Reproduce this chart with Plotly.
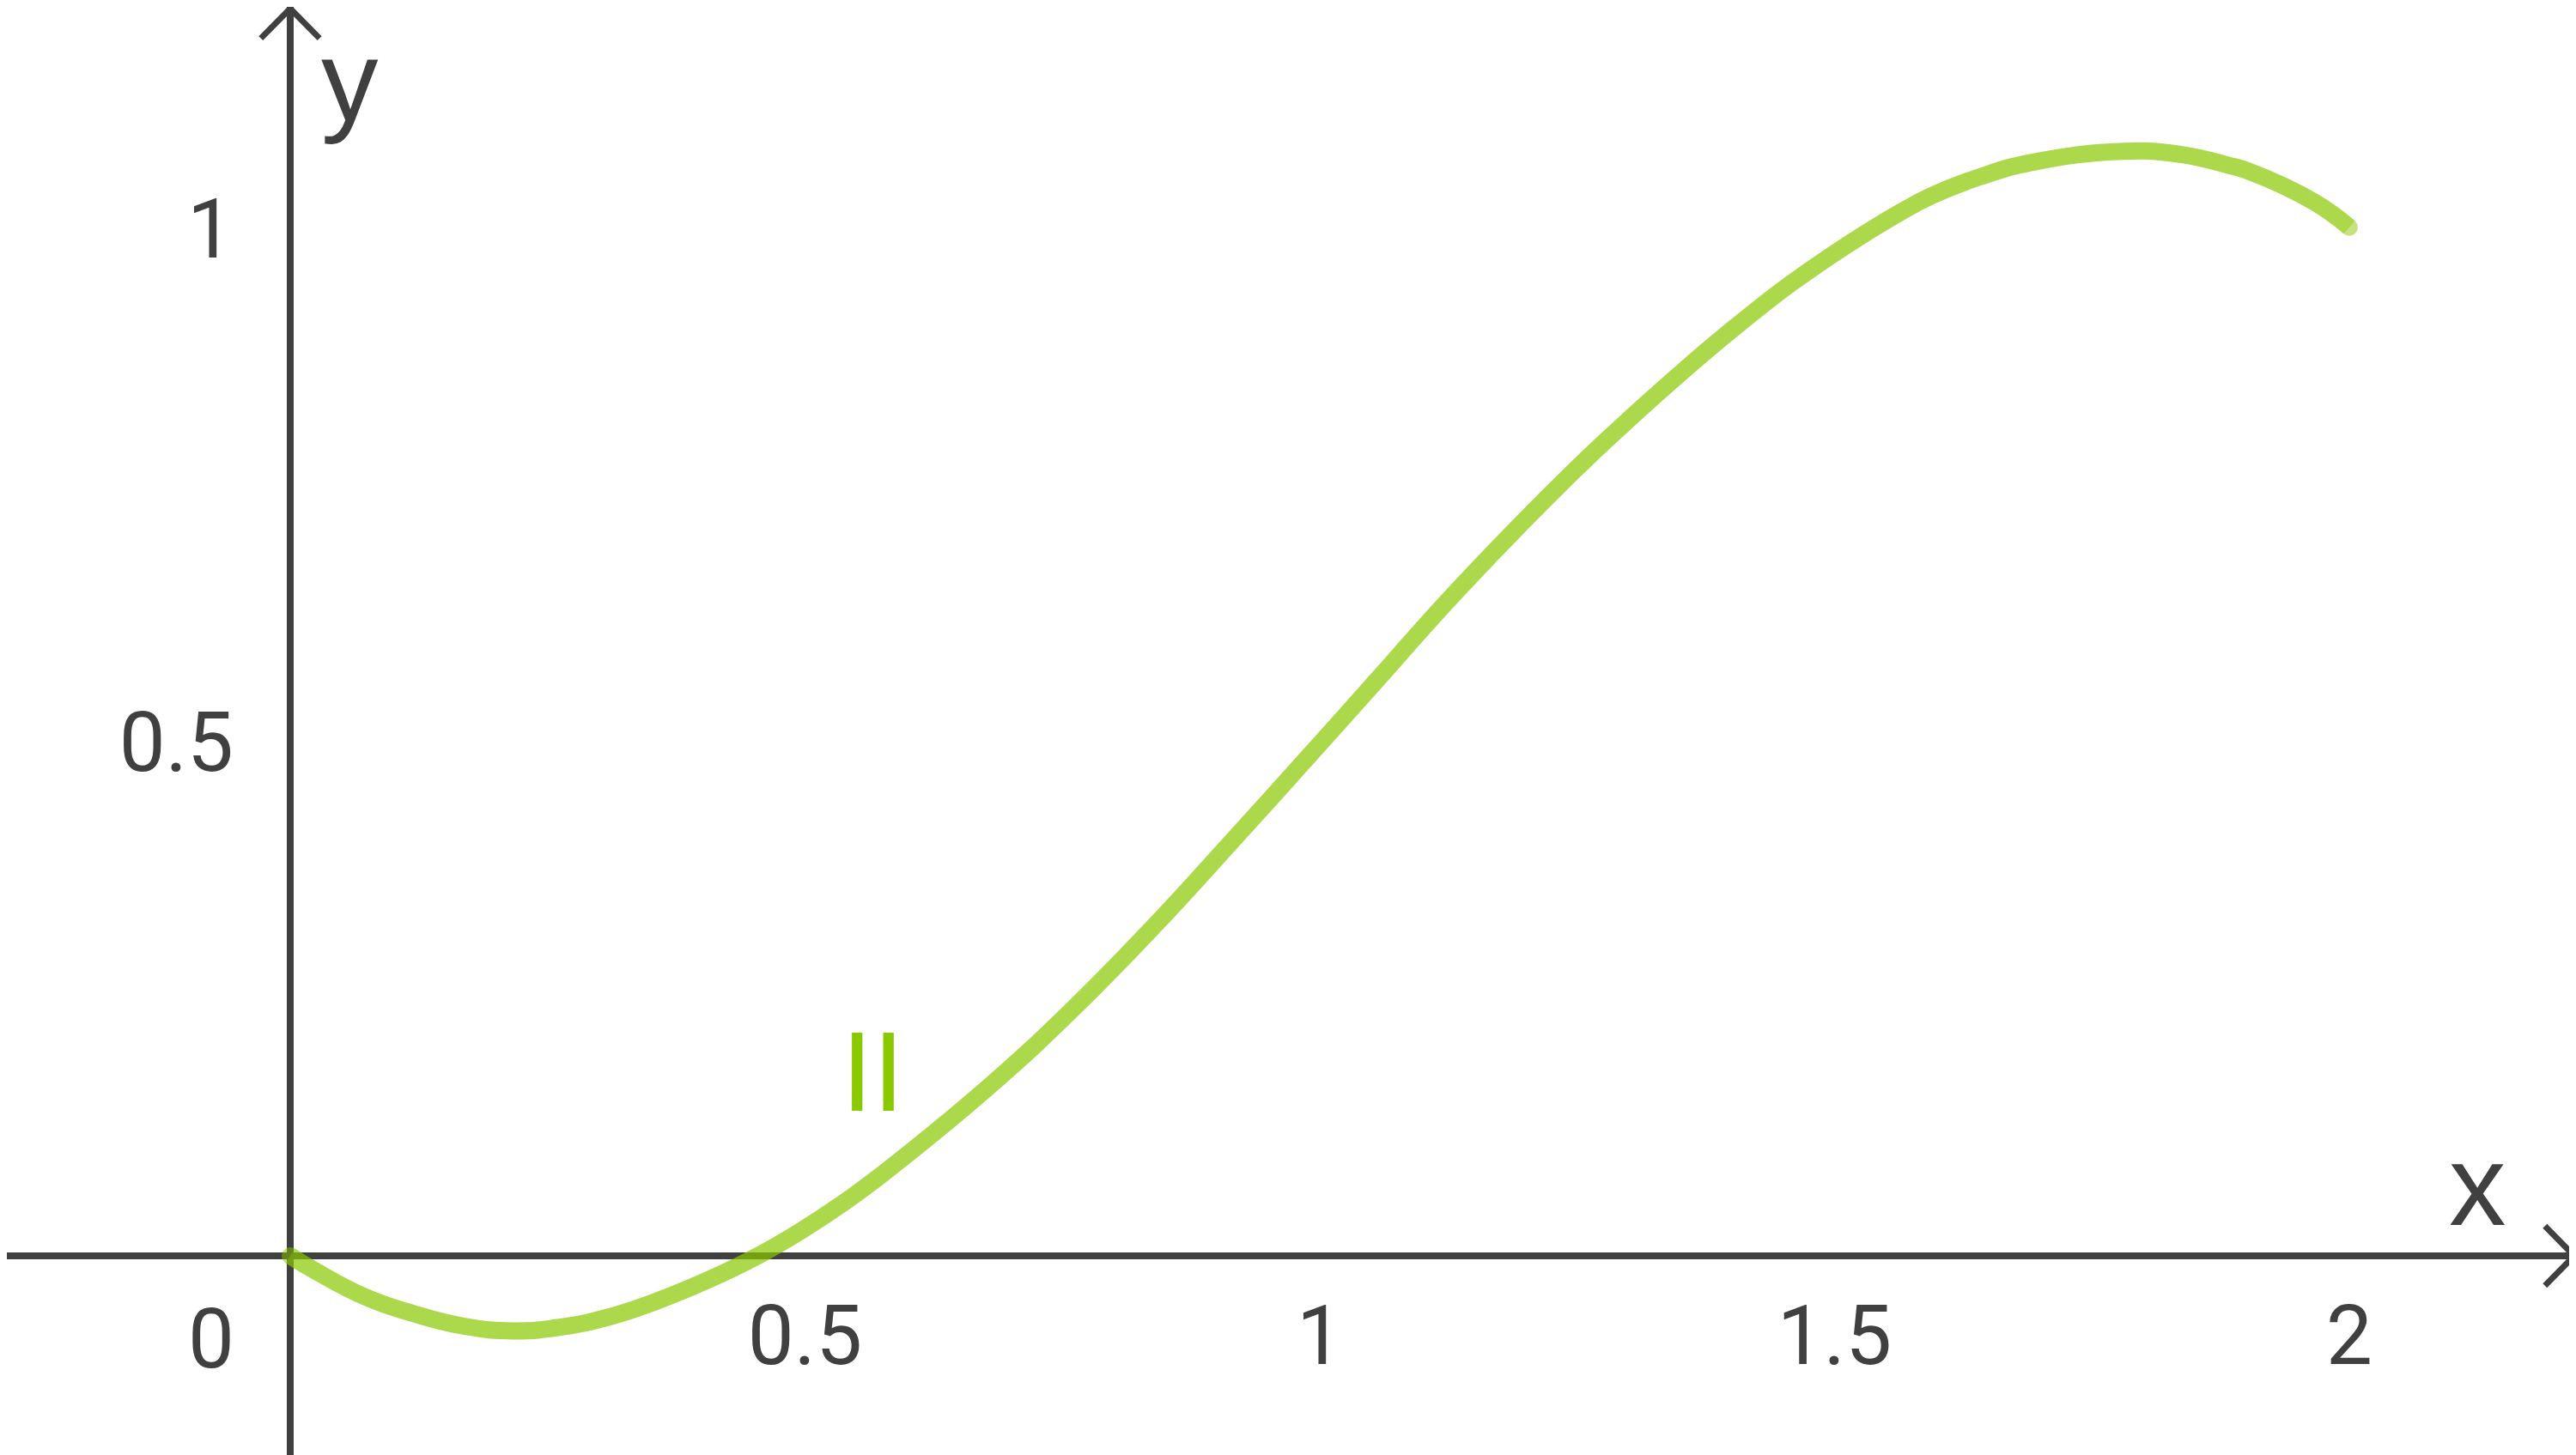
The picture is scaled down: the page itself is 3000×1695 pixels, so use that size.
import plotly.graph_objects as go

# ---- data ----
curve_x = [0.000, 0.025, 0.073, 0.121, 0.169, 0.217, 0.265, 0.313, 0.360, 0.408,
           0.456, 0.494, 0.538, 0.577, 0.679, 0.763, 0.842, 0.916, 0.990, 1.057,
           1.134, 1.245, 1.308, 1.346, 1.383, 1.435, 1.458, 1.511, 1.563, 1.595,
           1.641, 1.691, 1.781, 1.836, 1.882, 1.901, 1.966, 2.000]
curve_y = [0.0000, -0.0150, -0.0400, -0.0566, -0.0685, -0.0730, -0.0690, -0.0585, -0.0425, -0.0225,
           0.0010, 0.0230, 0.0520, 0.0810, 0.1650, 0.2430, 0.3240, 0.4050, 0.4870, 0.5620,
           0.6480, 0.7620, 0.8210, 0.8550, 0.8870, 0.9290, 0.9465, 0.9830, 1.0150, 1.0320,
           1.0500, 1.0640, 1.0750, 1.0720, 1.0615, 1.0560, 1.0255, 1.0010]

x_tick_vals = [0.5, 1, 1.5, 2]
x_tick_text = ["0.5", "1", "1.5", "2"]
y_tick_vals = [0.5, 1]
y_tick_text = ["0.5", "1"]

curve_label = "II"
curve_label_pos = (0.5655, 0.179)
origin_label = "0"
origin_label_pos = (-0.077, -0.0813)
x_title_pos = (2.125, 0.0685)
y_title_pos = (0.0576, 1.144)

# ---- view (page body has an 8px offset) ----
x_range = [-0.2752, 2.2202]
y_range = [-0.1938, 1.2155]

AXIS_COLOR = "#404040"
GREEN = "#8AC800"
FONT = "Liberation Sans, Arial, sans-serif"
NUM_FONT = "Roboto, Arial, sans-serif"

px0 = (0 - x_range[0]) / (x_range[1] - x_range[0])
py0 = (0 - y_range[0]) / (y_range[1] - y_range[0])

fig = go.Figure()

n = len(curve_x)
fig.add_trace(go.Scatter(
    x=curve_x, y=curve_y, mode="lines+markers",
    line=dict(color=GREEN, width=20, shape="spline", smoothing=1.3, simplify=False),
    marker=dict(color=GREEN, size=[20] + [0] * (n - 2) + [20], line=dict(width=0)),
    opacity=0.7, hoverinfo="skip", showlegend=False,
))

# arrow heads (chevrons) at axis ends
ax_dx = 0.0285
ax_dy = 0.029
y_tip = 1.2139
x_tip = 2.2185
shapes = [
    dict(type="path", xref="x", yref="y",
         path=f"M {-ax_dx} {y_tip - ax_dy} L 0 {y_tip} L {ax_dx} {y_tip - ax_dy}",
         line=dict(color=AXIS_COLOR, width=7)),
    dict(type="path", xref="x", yref="y",
         path=f"M {x_tip - ax_dx} {ax_dy} L {x_tip} 0 L {x_tip - ax_dx} {-ax_dy}",
         line=dict(color=AXIS_COLOR, width=7)),
]

annotations = [
    dict(x=curve_label_pos[0], y=curve_label_pos[1], text=curve_label, showarrow=False,
         font=dict(family=FONT, size=131, color=GREEN), xanchor="center", yanchor="middle"),
    dict(x=origin_label_pos[0], y=origin_label_pos[1], text=origin_label, showarrow=False,
         font=dict(family=NUM_FONT, size=96, color=AXIS_COLOR), xanchor="center", yanchor="middle"),
    dict(x=x_title_pos[0], y=x_title_pos[1], text="x", showarrow=False,
         font=dict(family=FONT, size=133, color=AXIS_COLOR), xanchor="center", yanchor="middle"),
    dict(x=y_title_pos[0], y=y_title_pos[1], text="y", showarrow=False,
         font=dict(family=FONT, size=133, color=AXIS_COLOR), xanchor="center", yanchor="middle"),
]

fig.update_layout(
    width=2992, height=1687,
    margin=dict(l=0, r=0, t=0, b=0),
    paper_bgcolor="white", plot_bgcolor="white",
    showlegend=False,
    shapes=shapes, annotations=annotations,
    xaxis=dict(range=x_range, showgrid=False, zeroline=True, zerolinecolor=AXIS_COLOR,
               zerolinewidth=8, showline=False, ticks="", tickvals=x_tick_vals,
               ticktext=x_tick_text, anchor="free", position=py0, side="bottom",
               ticklabelstandoff=29,
               tickfont=dict(family=NUM_FONT, size=96, color=AXIS_COLOR)),
    yaxis=dict(range=y_range, showgrid=False, zeroline=True, zerolinecolor=AXIS_COLOR,
               zerolinewidth=8, showline=False, ticks="", tickvals=y_tick_vals,
               ticktext=y_tick_text, anchor="free", position=px0, side="left",
               ticklabelstandoff=66,
               tickfont=dict(family=NUM_FONT, size=96, color=AXIS_COLOR)),
)

fig.write_html("out.html")
